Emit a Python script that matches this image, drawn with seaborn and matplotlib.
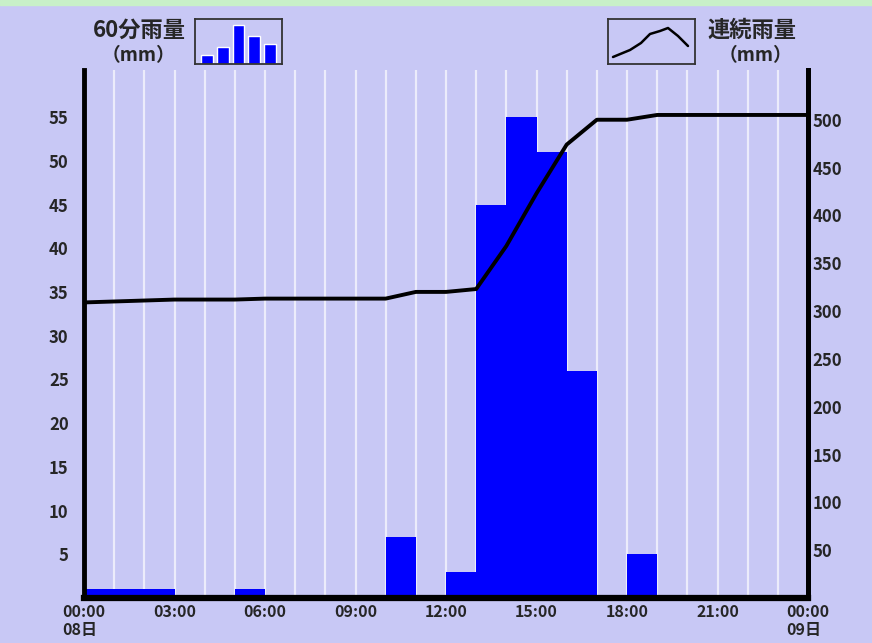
import numpy as np
import pandas as pd
import seaborn as sns
import matplotlib.pyplot as plt

# hourly rainfall (mm), bar i covers hour i -> i+1
hours = list(range(24))
rain_60min = [1, 1, 1, 0, 0, 1, 0, 0, 0, 0, 7, 0, 3, 45, 55, 51, 26, 0, 5, 0, 0, 0, 0, 0]

# continuous (cumulative) rainfall (mm) at each hour mark
cum_hours = list(range(25))
cum_rain = [309, 310, 311, 312, 312, 312, 313, 313, 313, 313, 313, 320, 320,
            323, 368, 423, 474, 500, 500, 505, 505, 505, 505, 505, 505]

left_ticks = [5, 10, 15, 20, 25, 30, 35, 40, 45, 50, 55]
right_ticks = [50, 100, 150, 200, 250, 300, 350, 400, 450, 500]
x_ticks = [0, 3, 6, 9, 12, 15, 18, 21, 24]
x_labels = ["00:00\n08日", "03:00", "06:00", "09:00", "12:00",
            "15:00", "18:00", "21:00", "00:00\n09日"]

# legend icons
icon_bars = [9, 17, 39, 28, 20]
icon_line_x = [5, 22, 33, 42, 52, 60, 70, 80]
icon_line_y = [7, 14, 21, 30, 33, 36, 28, 18]

BG = "#c8c8f5"
BLUE = "#0000ff"

sns.set_theme(style="white")
plt.rcParams['font.family'] = ['Noto Sans CJK JP', 'DejaVu Sans']
plt.rcParams['font.weight'] = 'bold'

fig = plt.figure(figsize=(8.72, 6.43), dpi=100, facecolor=BG)
fig.add_artist(plt.Rectangle((0, 1 - 5 / 643), 1, 5 / 643, transform=fig.transFigure,
                             color="#c8f0c8", zorder=0))

ax = fig.add_axes([84 / 872, 45 / 643, 724 / 872, 528 / 643])
ax.set_facecolor(BG)

df = pd.DataFrame({"hour": hours, "rain": rain_60min})
sns.histplot(data=df, x="hour", weights="rain", binwidth=1, binrange=(0, 24), ax=ax,
             color=BLUE, edgecolor="none", alpha=1, linewidth=0, zorder=3)

for h in range(1, 24):
    ax.axvline(h, color="#ececfb", lw=1.6, zorder=1)

ax.set_xlim(0, 24)
ax.set_ylim(0, 60.4)
ax.set_xlabel("")
ax.set_ylabel("")
ax.set_xticks(x_ticks)
ax.set_xticklabels(x_labels, fontsize=11.5, fontweight='bold', multialignment='left')
ax.set_yticks(left_ticks)
ax.set_yticklabels([str(t) for t in left_ticks], fontsize=12, fontweight='bold')
ax.tick_params(axis='both', length=0, pad=4)
ax.tick_params(axis='y', pad=11)

ax.spines["top"].set_visible(False)
ax.spines["left"].set_linewidth(3.5)
ax.spines["right"].set_linewidth(3.5)
ax.spines["bottom"].set_linewidth(4.5)
for s in ["left", "right", "bottom"]:
    ax.spines[s].set_color("black")
    ax.spines[s].set_zorder(5)

ax2 = ax.twinx()
cdf = pd.DataFrame({"hour": cum_hours, "cum": cum_rain})
sns.lineplot(data=cdf, x="hour", y="cum", ax=ax2, color="black", lw=2.8, zorder=4)
ax2.set_ylim(0, 552)
ax2.set_xlim(0, 24)
ax2.set_ylabel("")
ax2.set_yticks(right_ticks)
ax2.set_yticklabels([str(t) for t in right_ticks], fontsize=12, fontweight='bold')
ax2.tick_params(axis='y', length=0, pad=3)
ax2.spines["top"].set_visible(False)
ax2.spines["left"].set_visible(False)
ax2.spines["bottom"].set_visible(False)
ax2.spines["right"].set_linewidth(3.5)
ax2.spines["right"].set_color("black")

# titles
cjk = ['Noto Sans CJK JP', 'DejaVu Sans']
fig.text(139 / 872, 1 - 30 / 643, "60分雨量", family=cjk, fontsize=16, fontweight='bold',
         ha='center', va='center')
fig.text(138 / 872, 1 - 56 / 643, "（mm）", family=cjk, fontsize=13.5, fontweight='bold',
         ha='center', va='center')
fig.text(752 / 872, 1 - 30 / 643, "連続雨量", family=cjk, fontsize=16, fontweight='bold',
         ha='center', va='center')
fig.text(755 / 872, 1 - 56 / 643, "（mm）", family=cjk, fontsize=13.5, fontweight='bold',
         ha='center', va='center')

# legend icons
axb = fig.add_axes([195 / 872, 1 - 64 / 643, 87 / 872, 45 / 643])
axb.set_facecolor(BG)
sns.barplot(x=list(range(len(icon_bars))), y=icon_bars, ax=axb, color=BLUE,
            saturation=1, width=0.75)
axb.set_xlim(-0.75, 4.75)
axb.set_ylim(0, 45)
axb.set_xticks([])
axb.set_yticks([])
axb.set_xlabel("")
axb.set_ylabel("")
for s in axb.spines.values():
    s.set_color("#333333")
    s.set_linewidth(1.3)

axl = fig.add_axes([608 / 872, 1 - 64 / 643, 87 / 872, 45 / 643])
axl.set_facecolor(BG)
sns.lineplot(x=icon_line_x, y=icon_line_y, ax=axl, color="black", lw=1.8, sort=False)
axl.set_xlim(0, 87)
axl.set_ylim(0, 45)
axl.set_xticks([])
axl.set_yticks([])
for s in axl.spines.values():
    s.set_color("#333333")
    s.set_linewidth(1.3)

fig.savefig("out.png", dpi=100, facecolor=BG)
